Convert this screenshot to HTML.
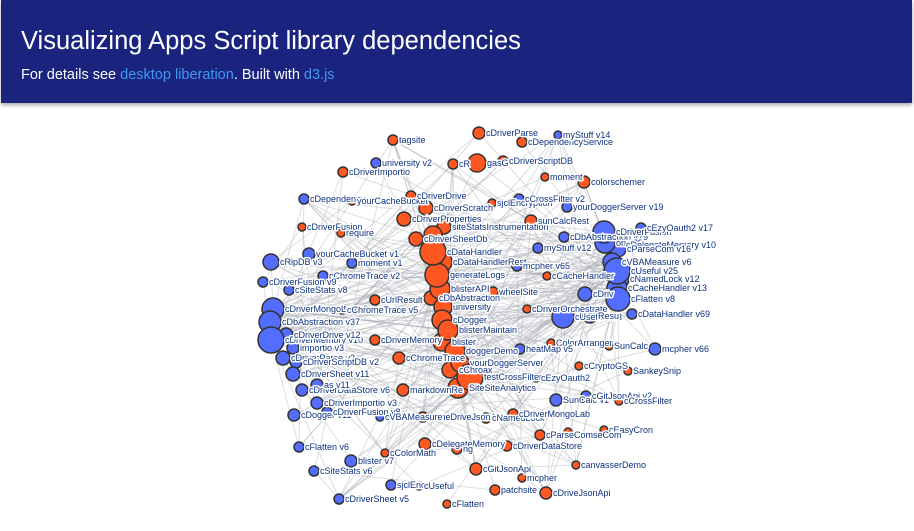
<!DOCTYPE html>
<html><head><meta charset="utf-8"><style>
body{margin:0;width:914px;height:531px;overflow:hidden;background:#fff;font-family:"Liberation Sans",sans-serif;position:relative}
#hdr{position:absolute;left:1px;top:0;width:911px;height:103px;background:#1a237e;box-shadow:0 2px 4px rgba(0,0,0,.35)}
#hdr h1{position:absolute;left:20px;top:27px;margin:0;font-weight:normal;font-size:25.5px;color:#fff}
#hdr p{position:absolute;left:20px;top:67px;margin:0;font-size:14.5px;color:#fff}
#hdr a{color:#3d9af0;text-decoration:none}
svg{position:absolute;left:0;top:0}
.lbl{font-size:9px;fill:#0d3280;stroke:#fff;stroke-width:3px;paint-order:stroke;stroke-linejoin:round}
</style></head><body>
<div id="hdr">
<h1>Visualizing Apps Script library dependencies</h1>
<p>For details see <a>desktop liberation</a>. Built with <a>d3.js</a></p>
</div>
<svg id="g" width="914" height="531"></svg>
<script>
const O='#ff5722',B='#536dfe';
const nodes=[
["tagsite",393,140,4,O],["university v2",376,163,4,B],["cDriverImportio",343,172,4,O],["cR",453,164,4,O],["gasGit",477,163,8,O],
["cDriverParse",479,133,5,O],["cDependency",304,199,4,B],["yourCacheBucket",352,201,3,O],["cDriverDrive",411,196,4,O],["cDriverScratch",426,208,6,O],
["sjclEncryption",492,203,3,O],["cDriverFusion",302,227,3,O],["require",341,233,3,O],["cDriverProperties",404,219,6,O],["siteStatsInstrumentation",444,227,6,O],
["cDriverSheetDb",416,239,6,O],["cDriverSheet",433,235,8,O],["cDataHandler",433,252,12,O],["cDataHandlerRest",442,262,9,O],["generateLogs",437,275,11,O],
["blisterAPI",440,289,9,O],["cDbAbstraction",431,298,6,O],["university",443,307,8,O],["yourCacheBucket v1",309,254,5,B],["cRipDB v3",271,262,7,B],
["moment v1",352,263,4,B],["cChromeTrace v2",323,276,4,B],["cDriverFusion v9",263,282,4,B],["cSiteStats v8",289,290,4,B],["cUrlResult",375,300,4,O],
["cDriverMongoLab v6",273,309,10,B],["cChromeTrace v5",342,310,3,B],["cDependencyService",522,142,4,O],["myStuff v14",558,135,3,B],["cDriverScriptDB",503,161,4,O],
["moment",545,177,3,O],["colorschemer",584,182,5,O],["cCrossFilter v2",519,199,4,B],["yourDoggerServer v19",567,207,4,B],["sunCalcRest",531,221,5,O],
["cDbAbstraction v29",564,237,4,B],["cDriverFusion v9b",604,232,10,B],["cEzyOauth2 v17",641,228,4,B],["cDriverSheet v9",605,243,9,B],["cDelegateMemory v10",617,245,7,B],
["cParseCom v16",618,249,7,B],["cVBAMeasure v6",612,262,8,B],["cUseful v25",617,271,12,B],["cNamedLock v12",620,279,8,B],["cCacheHandler v13",617,288,9,B],
["cFlatten v8",618,299,11,B],["cDataHandler v69",632,314,4,B],["myStuff v12",538,248,4,B],["mcpher v65",517,266,4,B],["cCacheHandler",547,276,3,O],
["wheelSite",493,292,4,O],["cDriverMemory v4",585,294,6,B],["cDriverOrchestrate",527,309,3,O],["cUseful v23",563,317,10,B],["cUrlResult v5",590,316,6,B],
["cDbAbstraction v37",270,322,10,B],["cDriverMemory v10",271,340,12,B],["cDriverDrive v12",286,335,6,B],["importio v3",293,348,5,B],["cDriverParse v3",283,358,6,B],
["cDriverScriptDB v2",296,362,5,B],["cDriverSheet v11",293,374,6,B],["cDriverDataStore v6",302,390,5,B],["cDriverAs v11",317,385,5,B],["cDriverImportio v3",317,403,5,B],
["cDogger v11",294,415,5,B],["cDriverFusion v8",327,412,4,B],["cOneDriveJsonApi",423,417,4,O],["cNamedLock",486,418,4,O],["cDriverMemory",375,340,4,O],
["cChromeTrace",399,358,5,O],["markdownRe",403,390,5,O],["cDogger",442,320,9,O],["blisterMaintain",448,330,9,O],["blister",442,342,8,O],
["doggerDemo",455,351,9,O],["yourDoggerServer",460,363,8,O],["cChromeA",450,370,7,O],["testCrossFilter",470,377,12,O],["cFlattenSiteAnalytics",458,388,9,O],
["cFlatten v6",299,447,4,B],["blister v7",351,461,5,B],["cColorMath",385,453,3,O],["cSiteStats v6",314,471,4,B],["cDelegateMemory",425,444,5,O],
["cGitJsonApi",476,469,5,O],["sjclEncr",391,485,4,B],["cUseful",419,486,3,O],["cDriverSheet v5",339,499,4,B],["cFlatten",447,504,3,O],
["cDriverLogging",457,449,4,O],["ColorArranger",551,343,3,O],["SunCalc",609,346,3,O],["mcpher v66",655,349,5,B],["heatMap v5",520,349,4,B],
["cCryptoGS",579,366,3,O],["SankeySnip",628,371,3,O],["cEzyOauth2",536,378,3,O],["SunCalc v1",556,400,5,B],["cGitJsonApi v2",586,396,4,B],
["cCrossFilter",619,401,3,O],["cDriverMongoLab",513,414,4,O],["cEasyCron",604,430,3,O],["cParseComseCom",540,435,4,O],["cDriverXs",568,432,3,O],
["cDriverDataStore",507,446,4,O],["canvasserDemo",576,465,3,O],["mcpher",522,478,3,O],["patchsite",495,490,4,O],["cDriveJsonApi",546,493,5,O],
["cVBAMeasure",380,417,3,B]
];
const hidden={"cDriverSheet":1,"cDriverFusion v9b":"cDriverFusion","cDriverSheet v9":"on v29","cDriverMemory v4":"cDriv","cUrlResult v5":"Resu","cChromeA":"cChroax","cDriverXs":1,"cDriverAs v11":"as v11","cR":"cR","gasGit":"gasG","cFlattenSiteAnalytics":"SiteSiteAnalytics","cDriverLogging":"ng","cDriverMemory v10":"cDriverMemory v10","sjclEncr":"sjclEncr"};
const hubs=["cDataHandler","generateLogs","blisterAPI","university","cDogger","blisterMaintain","doggerDemo","testCrossFilter","cFlattenSiteAnalytics","cUseful v25","cFlatten v8","cCacheHandler v13","cVBAMeasure v6","cDriverFusion v9b","cDriverMemory v10","cDbAbstraction v37","cDriverMongoLab v6","cUseful v23","cDataHandlerRest","yourDoggerServer"];
const links=[[0,17],[0,47],[1,19],[1,50],[2,61],[2,46],[3,20],[4,47],[4,17],[5,49],[5,30],[6,22],[7,24],[8,62],[9,50],[10,17],[11,27],[12,47],[13,61],[14,47],[14,30],[15,66],[16,43],[23,19],[24,17],[25,20],[26,21],[27,47],[28,18],[29,61],[31,18],[32,47],[33,59],[34,65],[35,25],[36,47],[36,106],[37,85],[38,83],[39,98],[40,21],[42,97],[52,17],[53,19],[54,47],[55,50],[56,77],[57,49],[59,79],[60,21],[62,8],[63,17],[64,5],[65,34],[66,15],[67,69],[68,9],[69,2],[70,79],[71,11],[72,47],[73,49],[74,61],[75,87],[76,47],[77,30],[78,50],[79,62],[80,47],[81,61],[82,38],[83,47],[84,106],[85,37],[86,50],[87,30],[88,93],[89,80],[90,28],[91,14],[92,61],[93,83],[94,102],[95,101],[96,93],[97,50],[98,47],[99,39],[100,101],[101,18],[102,42],[103,109],[104,105],[105,37],[106,50],[107,60],[108,92],[109,86],[110,61],[111,49],[112,53],[113,19],[114,58],[115,84],[116,24],[17,47],[17,60],[19,50],[19,61],[20,49],[22,46],[78,30],[80,58],[83,50],[83,30],[84,47],[86,61],[18,30],[20,60],[21,61],[78,47],[79,49],[81,58],[17,49],[19,58],[22,47],[85,61],[86,47],[80,60],[18,50],[20,46],[0,88],[6,85],[45,76],[44,91],[98,115],[99,68],[103,96],[104,70],[113,88],[108,74],[111,90],[110,72]];
const svg=document.getElementById('g'),ns='http://www.w3.org/2000/svg';
const idx={};nodes.forEach((n,i)=>idx[n[0]]=i);
const extra=[];
nodes.forEach((n,i)=>{hubs.forEach((h,k)=>{const j=idx[h];if(j!==i&&((i*7+k*3)%9===0))extra.push([i,j]);});});
const gl=document.createElementNS(ns,'g');svg.appendChild(gl);
links.concat(extra).forEach(([a,b])=>{const s=nodes[a],t=nodes[b];if(!s||!t)return;
const l=document.createElementNS(ns,'line');


l.setAttribute('x1',s[1]);l.setAttribute('y1',s[2]);l.setAttribute('x2',t[1]);l.setAttribute('y2',t[2]);
l.setAttribute('stroke','#a9adb5');l.setAttribute('stroke-opacity','0.4');l.setAttribute('stroke-width','1');gl.appendChild(l);});
const order=nodes.map((n,i)=>i).sort((a,b)=>nodes[a][3]-nodes[b][3]);
order.forEach(i=>{const n=nodes[i];
const c=document.createElementNS(ns,'circle');


c.setAttribute('cx',n[1]);c.setAttribute('cy',n[2]);c.setAttribute('r',n[3]+1);
c.setAttribute('fill',n[4]);c.setAttribute('stroke','#333');c.setAttribute('stroke-width','1.5');svg.appendChild(c);});
nodes.forEach(n=>{let txt=n[0];const h=hidden[n[0]];if(h===1)return;if(typeof h==='string')txt=h;
const t=document.createElementNS(ns,'text');


t.setAttribute('class','lbl');t.setAttribute('x',n[1]+n[3]+2);t.setAttribute('y',n[2]+3);t.textContent=txt;svg.appendChild(t);});
</script>
</body></html>
